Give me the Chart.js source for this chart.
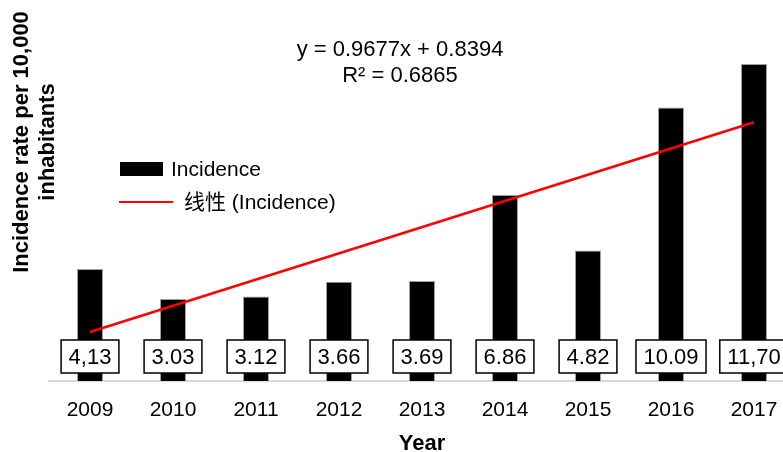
<!DOCTYPE html>
<html>
<head>
<meta charset="utf-8">
<script src="https://cdn.jsdelivr.net/npm/chart.js@4/dist/chart.umd.min.js"></script>
<style>
    html, body { margin: 0; padding: 0; overflow: hidden; background: #fff; }
</style>
</head>
<body>
<canvas id="chart" width="800" height="452"></canvas>
<script>
"use strict"

// data
var years = ['2009', '2010', '2011', '2012', '2013', '2014', '2015', '2016', '2017'];
var incidence = [4.13, 3.03, 3.12, 3.66, 3.69, 6.86, 4.82, 10.09, 11.70];
var valueLabels = ['4,13', '3.03', '3.12', '3.66', '3.69', '6.86', '4.82', '10.09', '11,70'];
// linear trend line: only its two ends are drawn
var trend = [1.81, null, null, null, null, null, null, null, 9.55];
var equationText = ['y = 0.9677x + 0.8394', 'R\u00B2 = 0.6865'];
var yTitle = ['Incidence rate per 10,000', 'inhabitants'];

var FONT = "'Liberation Sans', Arial, 'Noto Sans CJK SC', sans-serif";

// boxes with the values, near the bottom of every bar
var boxLabels = {
    id: 'boxLabels',
    afterDatasetsDraw: function (chart) {
        var ctx = chart.ctx;
        var meta = chart.getDatasetMeta(1);
        var yBottom = chart.scales.y.getPixelForValue(0);
        ctx.save();
        ctx.font = '22px ' + FONT;
        ctx.textAlign = 'center';
        ctx.textBaseline = 'middle';
        for (var i = 0; i < meta.data.length; i++) {
            var x = meta.data[i].x;
            var w = ctx.measureText(valueLabels[i]).width + 15;
            var h = 33;
            var cy = yBottom - 24.5;
            ctx.fillStyle = '#fff';
            ctx.fillRect(x - w / 2, cy - h / 2, w, h);
            ctx.strokeStyle = '#000';
            ctx.lineWidth = 1.5;
            ctx.strokeRect(x - w / 2, cy - h / 2, w, h);
            ctx.fillStyle = '#000';
            ctx.fillText(valueLabels[i], x, cy + 1);
        }
        ctx.restore();
    }
};

// legend, equation and y axis title
var extras = {
    id: 'extras',
    afterDraw: function (chart) {
        var ctx = chart.ctx;
        var ds = chart.data.datasets;
        ctx.save();

        // legend
        ctx.font = '21px ' + FONT;
        ctx.textBaseline = 'middle';
        ctx.textAlign = 'left';
        ctx.fillStyle = ds[1].backgroundColor;
        ctx.fillRect(120, 162, 43, 14);
        ctx.fillStyle = '#000';
        ctx.fillText(ds[1].label, 171, 170);

        ctx.strokeStyle = ds[0].borderColor;
        ctx.lineWidth = 2;
        ctx.beginPath();
        ctx.moveTo(119, 202);
        ctx.lineTo(173, 202);
        ctx.stroke();
        ctx.fillText(ds[0].label, 184, 203);

        // trend equation
        ctx.font = '22px ' + FONT;
        ctx.textAlign = 'center';
        ctx.fillText(equationText[0], 400, 50);
        ctx.fillText(equationText[1], 400, 76);

        // y axis title
        ctx.font = 'bold 22px ' + FONT;
        var xs = [22, 48];
        for (var i = 0; i < yTitle.length; i++) {
            ctx.save();
            ctx.translate(xs[i], 142);
            ctx.rotate(-Math.PI / 2);
            ctx.fillText(yTitle[i], 0, 0);
            ctx.restore();
        }
        ctx.restore();
    }
};

var config = {
    data: {
        labels: years,
        datasets: [{
            type: 'line',
            label: '线性 (Incidence)',
            data: trend,
            borderColor: '#ff0000',
            borderWidth: 2.5,
            pointRadius: 0,
            spanGaps: true,
            order: 0,
        },
        {
            type: 'bar',
            label: 'Incidence',
            data: incidence,
            backgroundColor: '#000000',
            borderColor: '#a0a0a0',
            borderWidth: 1,
            categoryPercentage: 1,
            barPercentage: 0.313,
            order: 1,
        }]
    },
    options: {
        responsive: false,
        animation: false,
        layout: { padding: { left: 48.5, right: 4.5, top: 0, bottom: 0 } },
        scales: {
            x: {
                grid: { display: false, drawTicks: false },
                border: { display: true, color: '#d9d9d9', width: 2 },
                ticks: {
                    color: '#000',
                    padding: 17,
                    maxRotation: 0,
                    font: { size: 21, family: FONT }
                },
                title: {
                    display: true,
                    text: 'Year',
                    color: '#000',
                    padding: { top: 0, bottom: -3 },
                    font: { size: 22, weight: 'bold', family: FONT, lineHeight: 1 }
                },
                afterFit: function (scale) { scale.height = 71; }
            },
            y: {
                display: false,
                min: 0,
                max: 14.06
            }
        },
        plugins: {
            legend: { display: false },
            tooltip: { enabled: false }
        }
    },
    plugins: [boxLabels, extras]
};

var myChart = new Chart(document.getElementById('chart').getContext('2d'), config);
</script>
</body>
</html>
